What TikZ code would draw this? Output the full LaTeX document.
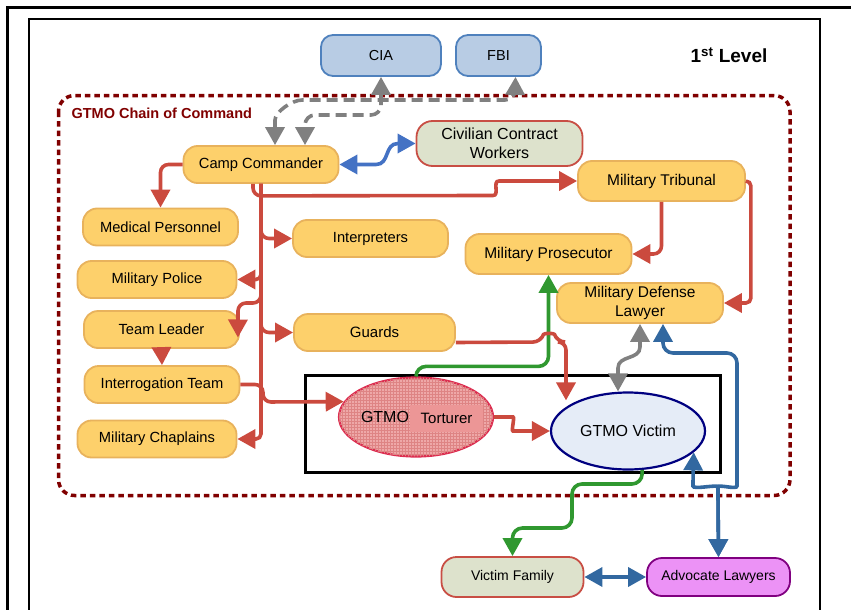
\documentclass[tikz,border=0pt]{standalone}
\usepackage{fontspec}
\setmainfont{Liberation Sans}
\usetikzlibrary{arrows.meta,shapes.geometric,patterns}

\definecolor{staffyellow}{RGB}{253,208,107}
\definecolor{staffborder}{RGB}{232,178,92}
\definecolor{cmdred}{RGB}{203,74,62}
\definecolor{agencyblue}{RGB}{184,204,228}
\definecolor{agencyborder}{RGB}{79,129,189}
\definecolor{civfill}{RGB}{221,226,204}
\definecolor{civborder}{RGB}{200,78,68}
\definecolor{advfill}{RGB}{236,146,246}
\definecolor{advborder}{RGB}{128,0,128}
\definecolor{torfill}{RGB}{238,168,168}
\definecolor{torgrid}{RGB}{222,132,132}
\definecolor{torbox}{RGB}{236,150,150}
\definecolor{torborder}{RGB}{220,45,80}
\definecolor{vicfill}{RGB}{229,236,247}
\definecolor{vicborder}{RGB}{0,0,128}
\definecolor{chainred}{RGB}{128,0,0}
\definecolor{linkgreen}{RGB}{48,152,48}
\definecolor{linkblue}{RGB}{68,114,196}
\definecolor{lawblue}{RGB}{50,104,160}
\definecolor{linkgray}{RGB}{128,128,128}

\begin{document}
\begin{tikzpicture}[x=1pt, y=-1pt,
    staffnode/.style={rectangle, rounded corners=14pt, draw=staffborder, fill=staffyellow, line width=1.8pt, minimum width=155pt, minimum height=37pt, align=center, inner sep=2pt, font=\fontsize{14.7}{17}\selectfont},
    agencynode/.style={rectangle, rounded corners=12pt, draw=agencyborder, fill=agencyblue, line width=1.8pt, minimum width=120pt, minimum height=41pt, font=\fontsize{14.5}{17}\selectfont},
    civnode/.style={rectangle, rounded corners=16pt, draw=civborder, fill=civfill, line width=1.8pt, minimum width=166pt, minimum height=45pt, align=center, inner sep=2pt, font=\fontsize{16}{19}\selectfont},
    advnode/.style={rectangle, rounded corners=15pt, draw=advborder, fill=advfill, line width=1.8pt, minimum width=143pt, minimum height=38pt, font=\fontsize{14}{17}\selectfont},
    redarrow/.style={draw=cmdred, line width=3.6pt, rounded corners=8pt, -{Triangle[length=18pt,width=19pt]}},
    greenarrow/.style={draw=linkgreen, line width=3.6pt, rounded corners=10pt, -{Triangle[length=18pt,width=19pt]}},
    bluearrow/.style={draw=linkblue, line width=3.6pt, {Triangle[length=18pt,width=19pt]}-{Triangle[length=18pt,width=19pt]}},
    lawarrow/.style={draw=lawblue, line width=3.6pt, rounded corners=10pt, {Triangle[length=18pt,width=19pt]}-{Triangle[length=18pt,width=19pt]}},
    grayarrow/.style={draw=linkgray, line width=3.6pt, {Triangle[length=18pt,width=19pt]}-{Triangle[length=18pt,width=19pt]}},
    graydash/.style={draw=linkgray, line width=3.6pt, dash pattern=on 11pt off 6pt, rounded corners=10pt, {Triangle[length=18pt,width=19pt]}-{Triangle[length=18pt,width=19pt]}}
    ]
    \useasboundingbox (0,0) rectangle (851,610);
    \clip (0,0) rectangle (851,610);

    \draw [line width=3pt] (7.5,8) rectangle (880,650);
    \draw [line width=2pt] (29,19.5) rectangle (819.5,650);
    \draw [chainred, line width=3.5pt, dash pattern=on 5.5pt off 4pt, rounded corners=16pt] (58.5,95.5) rectangle (790,495.5);
    \draw [line width=3pt] (305,375.5) rectangle (720,472);

    \node [anchor=west, text=chainred, font=\bfseries\fontsize{14.5}{17}\selectfont] (chainlbl) at (68,113) {GTMO Chain of Command};
    \node [font=\bfseries\fontsize{19}{22}\selectfont] (level) at (729,55) {1\textsuperscript{st} Level};

    \node [agencynode] (cia) at (381,55.5) {CIA};
    \node [agencynode, minimum width=85pt] (fbi) at (498.5,55.5) {FBI};

    \node [staffnode] (cc) at (261,164.5) {Camp Commander};
    \node [civnode] (ccw) at (499.5,143.5) {Civilian Contract\\Workers};
    \node [staffnode, minimum width=167pt, minimum height=40pt, font=\fontsize{15.5}{18.5}\selectfont] (trib) at (661.5,181) {Military Tribunal};

    \node [staffnode] (med) at (160.5,227) {Medical Personnel};
    \node [staffnode] (interp) at (370.5,238.5) {Interpreters};
    \node [staffnode, minimum width=159pt] (mp) at (157,279.5) {Military Police};
    \node [staffnode, minimum width=166pt, minimum height=40pt, font=\fontsize{15.5}{18.5}\selectfont] (pros) at (548.5,254) {Military Prosecutor};
    \node [staffnode, minimum width=166pt, minimum height=40pt, font=\fontsize{15.5}{18.5}\selectfont] (mdl) at (640,303) {Military Defense\\Lawyer};
    \node [staffnode] (tl) at (161.5,329.5) {Team Leader};
    \node [staffnode, minimum width=161pt, font=\fontsize{15}{18}\selectfont] (guards) at (374.5,332.5) {Guards};
    \node [staffnode] (it) at (162,384.5) {Interrogation Team};
    \node [staffnode, minimum width=159pt] (chap) at (157,439) {Military Chaplains};

    \node [ellipse, draw=torborder, line width=2.2pt, fill=torfill, postaction={pattern=grid, pattern color=torgrid}, minimum width=154pt, minimum height=79pt] (tort) at (416,417) {};
    \node [font=\fontsize{16}{19}\selectfont] (tortgtmo) at (385,417) {GTMO};
    \node [fill=torbox, minimum width=73pt, minimum height=27pt, inner sep=0pt, font=\fontsize{15}{18}\selectfont] (torttxt) at (446.5,418.5) {Torturer};
    \node [ellipse, draw=vicborder, line width=2.2pt, fill=vicfill, minimum width=154pt, minimum height=77pt, font=\fontsize{16}{19}\selectfont] (vict) at (628,431) {GTMO Victim};

    \node [civnode, minimum width=142pt, minimum height=40pt, rounded corners=15pt, font=\fontsize{14}{17}\selectfont] (vf) at (512.5,577) {Victim Family};
    \node [advnode] (al) at (718.5,577) {Advocate Lawyers};

    \draw [redarrow] (cc.west) -| (med.north);
    \draw [redarrow] ([xshift=-8pt]cc.south) -- ++(0,12) -- (485,195.5) .. controls (500,195.5) and (492,181) .. (507,181) -- (trib.west);
    \draw [redarrow, rounded corners=5pt] (cc.south) -- (261,439) -- (chap.east);
    \draw [redarrow, rounded corners=5pt] (cc.south) -- (261,279.5) -- (mp.east);
    \draw [redarrow] (cc.south) -- (261,238.5) -- (interp.west);
    \draw [redarrow] (cc.south) -- (261,332.5) -- (guards.west);
    \draw [redarrow] (cc.south) -- (261,303) -- (238,303) -- ([shift={(-2pt,-8pt)}]tl.east);
    \draw [redarrow] (tl.south) -- (it.north);
    \draw [redarrow] (it.east) -- (263,384.5) -- (263,402) -- (tort.168);
    \draw [redarrow] (trib.south) |- (pros.east);
    \draw [redarrow, rounded corners=5pt] (trib.east) -- ++(5,0) |- (mdl.east);
    \draw [redarrow] (tort.east) -- (505,417) .. controls (515,417) and (511,431) .. (521,431) -- (vict.west);

    \draw [greenarrow] (tort.north) -- ++(0,-10) -| (pros.south);
    \draw [redarrow] ([yshift=-10pt]guards.east) -- (541,342) .. controls (544,333) and (554,333) .. (557,342) -- (566,342) -- ([shift={(-62pt,-9pt)}]vict.north);

    \draw [grayarrow] ([xshift=-10pt]vict.north) -- (618,368) .. controls (618,355) and (640,360) .. (640,347) -- (mdl.south);

    \draw [lawarrow] (al.north) -- (718,497) .. controls (718,484) and (693,490) .. (693,476) -- (vict.-18);
    \draw [lawarrow] (al.north) -- (718,497) .. controls (718,484) and (737,490) .. (737,476) -- (737,353) -- (663,353) -- ([xshift=23pt]mdl.south);
    \draw [lawarrow] (vf.east) -- (al.west);
    \draw [greenarrow] (vict.-70) -- (642,484) -- (572,484) -- (572,528) -- (512.5,528) -- (vf.north);

    \draw [bluearrow] (cc.east) -- (376,164.5) .. controls (390,164.5) and (384,143.5) .. (398,143.5) -- (ccw.west);

    \draw [graydash] ([xshift=17pt]fbi.south) -- (515,100) -- (312,100) .. controls (292,100) and (275,112) .. (275,130) -- ([xshift=14pt]cc.north);
    \draw [graydash] (cia.south) -- (381,115) -- (305,115) -- ([xshift=44pt]cc.north);
\end{tikzpicture}
\end{document}
